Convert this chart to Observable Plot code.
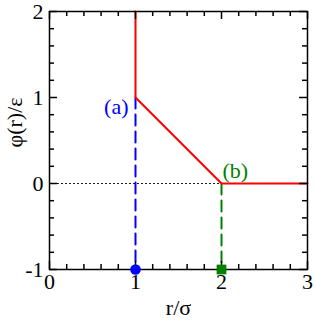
<!DOCTYPE html>
<html><head><meta charset="utf-8">
<script src="https://cdn.jsdelivr.net/npm/d3@7"></script>
<script src="https://cdn.jsdelivr.net/npm/@observablehq/plot@0.6"></script>
<style>
body{margin:0;background:#fff}
#chart svg text{font-family:"Liberation Serif","Times New Roman",serif}
</style>
</head><body><div id="chart"></div>
<div style="position:absolute;left:0;top:0;width:1px;height:1px;overflow:hidden;color:transparent">&nbsp;</div>
<script>
// potential curve phi(r)/epsilon
const potentialR = [1, 1, 2, 3];
const potentialPhi = [2, 1, 0, 0];
// dotted zero reference line
const zeroLineR = [0, 2];
const zeroLinePhi = [0, 0];
// marker (a): dashed drop line and circle
const markerAR = [1, 1];
const markerAPhi = [1, -1];
// marker (b): dashed drop line and square
const markerBR = [2, 2];
const markerBPhi = [0, -1];
const labelText = ["(a)", "(b)"];
const labelR = [1, 2];
const labelPhi = [1, 0];
// ticks
const xTicks = [0, 1, 2, 3];
const yTicks = [-1, 0, 1, 2];
const xMinor = [0.2, 0.4, 0.6, 0.8, 1.2, 1.4, 1.6, 1.8, 2.2, 2.4, 2.6, 2.8];
const yMinor = [-0.8, -0.6, -0.4, -0.2, 0.2, 0.4, 0.6, 0.8, 1.2, 1.4, 1.6, 1.8];
const xLabel = "r/σ";
const yLabel = "φ(r)/ε";

const font = "Liberation Serif, Times New Roman, serif";
const xMin = 0, xMax = 3, yMin = -1, yMax = 2;
const W = 316, H = 326, mL = 49, mR = 9, mT = 11, mB = 57;
// tick lengths in pixels converted to data units via the plot size
const pxX = (xMax - xMin) / (W - mL - mR);
const pxY = (yMax - yMin) / (H - mT - mB);
const majorLen = 8, minorLen = 5;

const potential = potentialR.map((r, i) => ({r, phi: potentialPhi[i]}));
const zeroLine = zeroLineR.map((r, i) => ({r, phi: zeroLinePhi[i]}));
const dropA = markerAR.map((r, i) => ({r, phi: markerAPhi[i]}));
const dropB = markerBR.map((r, i) => ({r, phi: markerBPhi[i]}));
const labels = labelText.map((t, i) => ({t, r: labelR[i], phi: labelPhi[i]}));

const xTickMarks = (ticks, len) => [
  Plot.ruleX(ticks, {x: d => d, y1: yMin, y2: yMin + len * pxY, stroke: "black", strokeWidth: 1.5}),
  Plot.ruleX(ticks, {x: d => d, y1: yMax, y2: yMax - len * pxY, stroke: "black", strokeWidth: 1.5})
];
const yTickMarks = (ticks, len) => [
  Plot.ruleY(ticks, {y: d => d, x1: xMin, x2: xMin + len * pxX, stroke: "black", strokeWidth: 1.5}),
  Plot.ruleY(ticks, {y: d => d, x1: xMax, x2: xMax - len * pxX, stroke: "black", strokeWidth: 1.5})
];

const chart = Plot.plot({
  width: W, height: H,
  marginLeft: mL, marginRight: mR, marginTop: mT, marginBottom: mB,
  style: {background: "white"},
  x: {domain: [xMin, xMax], axis: null},
  y: {domain: [yMin, yMax], axis: null},
  marks: [
    Plot.line(zeroLine, {x: "r", y: "phi", stroke: "black", strokeWidth: 1, strokeDasharray: "1,3"}),
    Plot.line(dropA, {x: "r", y: "phi", stroke: "#0000ff", strokeWidth: 2, strokeDasharray: "11,6"}),
    Plot.line(dropB, {x: "r", y: "phi", stroke: "#008000", strokeWidth: 2, strokeDasharray: "11,6"}),
    Plot.line(potential, {x: "r", y: "phi", stroke: "#ff0000", strokeWidth: 2}),
    ...xTickMarks(xTicks, majorLen),
    ...xTickMarks(xMinor, minorLen),
    ...yTickMarks(yTicks, majorLen),
    ...yTickMarks(yMinor, minorLen),
    Plot.frame({stroke: "black", strokeWidth: 1.5}),
    // tick labels
    Plot.text(xTicks, {x: d => d, text: d => String(d), frameAnchor: "bottom", dy: 19, fontSize: 22, fontFamily: font, fill: "black"}),
    Plot.text(yTicks, {y: d => d, text: d => String(d), frameAnchor: "left", textAnchor: "end", dx: -6, fontSize: 22, fontFamily: font, fill: "black"}),
    // markers
    Plot.dot([dropA[1]], {x: "r", y: "phi", r: 5.3, fill: "#0000ff"}),
    Plot.dot([dropB[1]], {x: "r", y: "phi", r: 5.5, symbol: "square", fill: "#008000"}),
    Plot.text([labels[0]], {x: "r", y: "phi", text: "t", fill: "#0000ff", fontSize: 22, fontFamily: font, textAnchor: "end", dx: -7, dy: 9}),
    Plot.text([labels[1]], {x: "r", y: "phi", text: "t", fill: "#008000", fontSize: 22, fontFamily: font, textAnchor: "start", dx: 1, dy: -13}),
    // axis titles
    Plot.text([xLabel], {text: d => d, frameAnchor: "bottom", dy: 45, fontSize: 22, fontFamily: font, fill: "black"}),
    Plot.text([yLabel], {text: d => d, frameAnchor: "left", rotate: -90, dx: -35, dy: 7, fontSize: 22, fontFamily: font, fill: "black"})
  ]
});
document.getElementById("chart").appendChild(chart);
</script>
</body></html>
